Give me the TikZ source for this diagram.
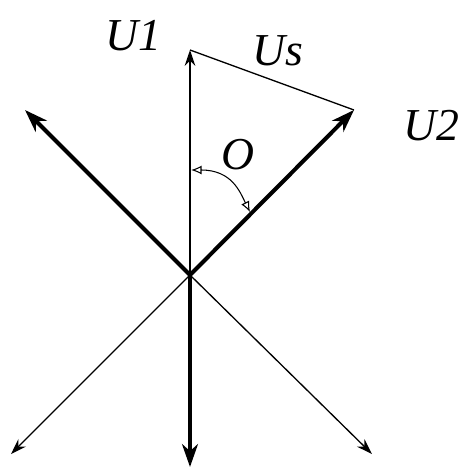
\documentclass[tikz,border=0pt]{standalone}
\usepackage{fontspec}
\setmainfont{Liberation Serif}
\usetikzlibrary{arrows.meta}

\begin{document}
\begin{tikzpicture}[x=0.02cm, y=-0.02cm, >=Stealth,
    heavy/.style={line width=2.3pt, -{Stealth[length=13pt, width=9pt, inset=4pt]}},
    light/.style={line width=0.75pt, -{Stealth[length=9pt, width=6pt, inset=3pt]}},
    lbl/.style={font=\fontsize{26}{30}\selectfont\itshape, inner sep=0pt}]
    \useasboundingbox (0,0) rectangle (462,467);
    \coordinate (O) at (190,275);
    \coordinate (U1) at (190,50);
    \coordinate (U2) at (354,110);
    \coordinate (L) at (25,110);
    \coordinate (D) at (190,467);
    \coordinate (DL) at (11,454);
    \coordinate (DR) at (372,454);
    \coordinate (A1) at (191,170);
    \coordinate (A2) at (250,212);

    % phasors
    \draw[light] (O) -- (U1);
    \draw[heavy] (O) -- (U2);
    \draw[heavy] (O) -- (L);
    \draw[heavy] (O) -- (D);
    \draw[light] (O) -- (DL);
    \draw[light] (O) -- (DR);
    \draw[line width=0.75pt] (U1) -- (U2);

    % angle
    \draw[line width=0.6pt, {Latex[open, length=6pt, width=5pt]}-{Latex[open, length=6pt, width=5pt]}]
        (A1) .. controls (232,170) and (240,192) .. (A2);

    \node[lbl] (u1) at (133,36) {U1};
    \node[lbl] (us) at (278,51) {Us};
    \node[lbl] (u2) at (431,126) {U2};
    \node[lbl] (th) at (238,155) {O};
\end{tikzpicture}
\end{document}
